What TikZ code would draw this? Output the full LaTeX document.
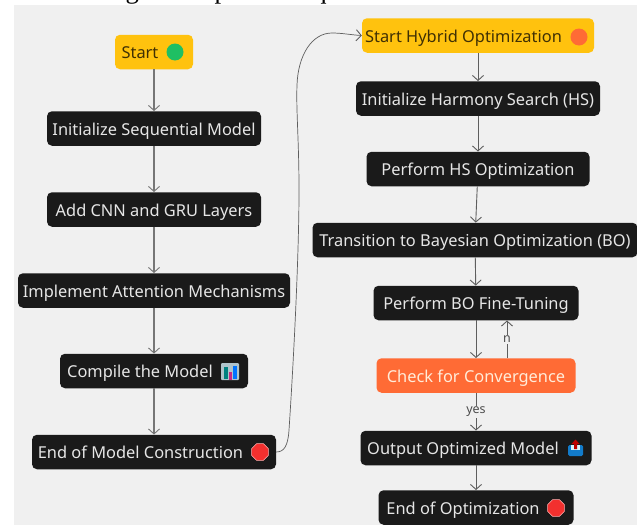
\documentclass[tikz,border=0pt]{standalone}
\usepackage{fontspec}
\setmainfont{Noto Sans}
\newfontfamily\captionfont{Liberation Serif}
\usetikzlibrary{arrows.meta,shapes.geometric}
\definecolor{panelgray}{HTML}{F0F0F0}
\definecolor{boxblack}{HTML}{1A1A1A}
\definecolor{boxyellow}{HTML}{FFC20E}
\definecolor{boxorange}{HTML}{FF6B35}
\definecolor{boxtext}{HTML}{E6E6E6}
\definecolor{flowgray}{HTML}{5E5E5E}
\definecolor{leftgray}{HTML}{767676}
\definecolor{gogreen}{HTML}{1FBF63}
\definecolor{stopred}{HTML}{F2302E}
\newcommand{\iconroom}[1]{\rule{#1}{0pt}}
\tikzset{
    stepbox/.style={fill=boxblack, text=boxtext, rounded corners=5pt, minimum height=34.5pt,
        inner sep=0pt, text height=14pt, text depth=1pt, font=\fontsize{16.4pt}{19pt}\selectfont},
    startbox/.style={stepbox, fill=boxyellow, text=black!75!boxyellow},
    checkbox/.style={stepbox, fill=boxorange, text=orange!15!white},
    flow/.style={draw=flowgray, line width=0.9pt, -{Straight Barb[length=5pt,width=11pt,line width=0.9pt]}},
    edgelabel/.style={fill=panelgray, text=black!70, inner sep=1pt, font=\fontsize{12.5pt}{14pt}\selectfont},
    stopdot/.style={regular polygon, regular polygon sides=8, fill=stopred, draw=white!70!red,
        line width=0.6pt, minimum size=18pt, inner sep=0pt},
    rounddot/.style={circle, minimum size=17pt, inner sep=0pt}
}
\begin{document}
\begin{tikzpicture}[x=1pt,y=-1pt]
    \useasboundingbox (0,0) rectangle (637,525);
    \fill[panelgray] (14,5) rectangle (637,525);

    % cut-off line above the panel
    \begin{scope}
        \clip (0,0) rectangle (637,5);
        \node[anchor=base west, inner sep=0pt, font=\captionfont\fontsize{26.7pt}{30pt}\selectfont] (topline) at (32,-1.5) {indicating the steps in a sequential manner.};
    \end{scope}

    % Model construction
    \node[startbox, minimum width=78pt] (start) at (154,52) {Start\iconroom{28pt}};
    \node[stepbox, minimum width=214pt] (initseq) at (154,128.5) {Initialize Sequential Model};
    \node[stepbox, minimum width=214pt] (addlayers) at (154,209.5) {Add CNN and GRU Layers};
    \node[stepbox, minimum width=272pt] (attention) at (154,290.5) {Implement Attention Mechanisms};
    \node[stepbox, minimum width=188pt] (compile) at (154,371) {Compile the Model\iconroom{28pt}};
    \node[stepbox, minimum width=244pt] (endmodel) at (154,452) {End of Model Construction\iconroom{27pt}};

    % Hybrid optimization
    \node[startbox, minimum width=232pt] (starthybrid) at (478,35.5) {Start Hybrid Optimization\iconroom{29pt}};
    \node[stepbox, minimum width=244pt] (iniths) at (478,98.5) {Initialize Harmony Search (HS)};
    \node[stepbox, minimum width=223pt] (perfhs) at (478,169) {Perform HS Optimization};
    \node[stepbox, minimum width=325pt] (transition) at (475,240) {Transition to Bayesian Optimization (BO)};
    \node[stepbox, minimum width=205pt] (perfbo) at (476,303) {Perform BO Fine-Tuning};
    \node[checkbox, minimum width=199pt] (check) at (476,375.5) {Check for Convergence};
    \node[stepbox, minimum width=231pt] (output) at (476,448) {Output Optimized Model\iconroom{26pt}};
    \node[stepbox, minimum width=195pt] (endopt) at (476,507.5) {End of Optimization\iconroom{26pt}};

    % Icons
    \node[rounddot, fill=gogreen] (godot) at (175,52) {};
    \node[rounddot, fill=boxorange] (hybriddot) at (579,37) {};
    \node[stopdot] (stopmodel) at (260,452) {};
    \node[stopdot] (stopopt) at (556,508) {};

    % bar chart icon
    \fill[cyan!25!gray!60!white, rounded corners=1pt] (221,363) rectangle (239,380);
    \fill[teal] (224,367) rectangle (227.5,379);
    \fill[magenta!80!black] (228.5,372) rectangle (232,380);
    \fill[blue!55!cyan] (233,366) rectangle (236.5,379);

    % outbox icon
    \fill[cyan!60!blue, rounded corners=1.5pt] (568,445) rectangle (583,456);
    \fill[cyan!15!white] (571,445) rectangle (580,450);
    \fill[red!75!black] (575.5,439.5) -- (579.5,444) -- (577,444) -- (577,449) -- (574,449) -- (574,444) -- (571.5,444) -- cycle;

    % Connectors
    \foreach \a/\b in {start/initseq,initseq/addlayers,addlayers/attention,attention/compile,compile/endmodel}
        \draw[flow, draw=leftgray, line width=1.1pt] (\a) -- (\b);
    \foreach \a/\b in {starthybrid/iniths,iniths/perfhs,perfhs/transition,transition/perfbo,perfbo/check,output/endopt}
        \draw[flow] (\a) -- (\b);

    \draw[flow] (check) -- node[edgelabel] (yeslabel) {yes} (output);
    \coordinate (nstart) at ([xshift=31pt]check.north);
    \coordinate (nend) at ([xshift=31pt]perfbo.south);
    \draw[flow] (nstart) -- node[edgelabel] (nolabel) {n} (nend);

    % Link between the two columns
    \draw[flow, line width=0.7pt] (endmodel.east) .. controls (284,452) and (288,446) .. (289,430)
        .. controls (293,370) and (299,260) .. (299,190)
        .. controls (299,140) and (296,110) .. (297,85)
        .. controls (298,55) and (312,33) .. (332,33)
        .. controls (342,33) and (352,35) .. (starthybrid.west);
\end{tikzpicture}
\end{document}
